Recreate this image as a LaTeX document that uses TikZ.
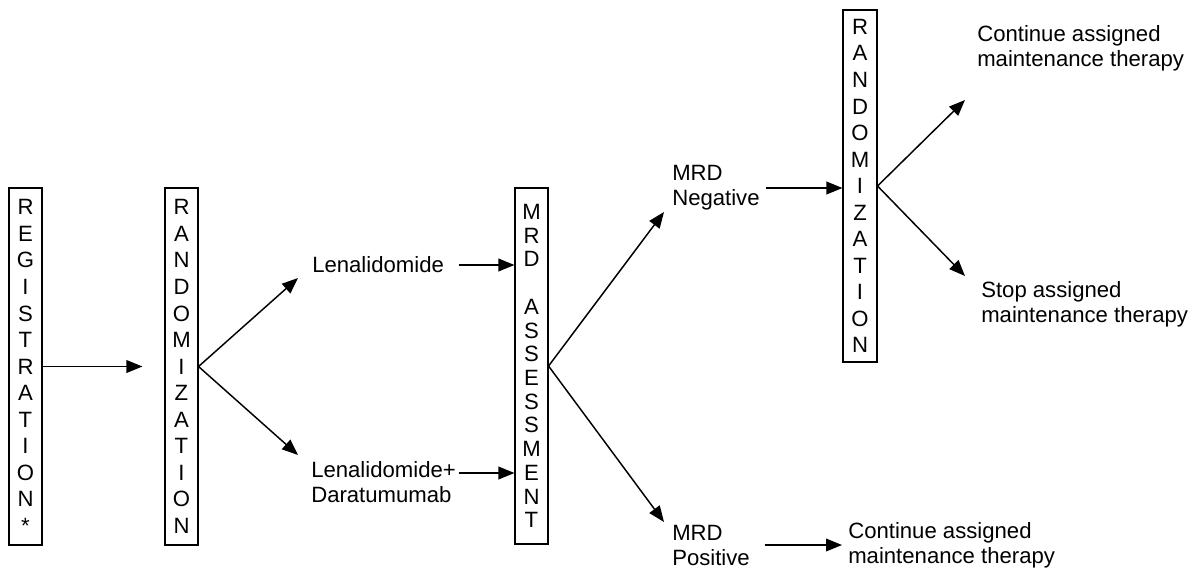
\documentclass[tikz,border=0pt]{standalone}
\usepackage{fontspec}
\setmainfont{Liberation Sans}
\usepackage{tikz}
\usetikzlibrary{arrows.meta, positioning}

\begin{document}
\begin{tikzpicture}[x=0.75pt, y=-0.75pt,
	vbox/.style={rectangle, draw=black, line width=0.8pt, align=center, inner sep=0pt,
	             minimum width=24.75pt, minimum height=267.75pt,
	             font=\fontsize{16.6}{19.9}\selectfont},
	lbl/.style={rectangle, align=left, inner sep=0pt, anchor=west,
	            font=\fontsize{16.6}{18.75}\selectfont},
	arr/.style={-{Triangle[length=12pt, width=9.5pt]}, line width=1.1pt, draw=black}
	]
\useasboundingbox (0,0) rectangle (1192,569);

% vertical boxes
\node[vbox] (reg) at (25.5,366.5)
	{R\\E\\G\\I\\S\\T\\R\\A\\T\\I\\O\\N\\*};
\node[vbox] (ran) at (181.5,366.5)
	{R\\A\\N\\D\\O\\M\\I\\Z\\A\\T\\I\\O\\N};
\node[vbox, minimum height=267pt, font=\fontsize{16.6}{17.8}\selectfont] (mrd) at (531.5,366)
	{M\\R\\D\\~\\A\\S\\S\\E\\S\\S\\M\\E\\N\\T};
\node[vbox, minimum width=25.5pt, minimum height=264pt] (ran2) at (860,186)
	{R\\A\\N\\D\\O\\M\\I\\Z\\A\\T\\I\\O\\N};

% arms
\node[lbl] (len) at (312,265) {Lenalidomide};
\node[lbl] (dara) at (311,482) {Lenalidomide+\\Daratumumab};
\node[lbl] (neg) at (672,188) {MRD\\Negative};
\node[lbl] (pos) at (672,545) {MRD\\Positive};
\node[lbl] (cont) at (977,48) {Continue assigned\\maintenance therapy};
\node[lbl] (stop) at (981,304) {Stop assigned\\maintenance therapy};
\node[lbl] (cont2) at (848,545) {Continue assigned\\maintenance therapy};

\coordinate (tlen) at (298,278);
\coordinate (tdara) at (298,455);
\coordinate (tneg) at (664,212);
\coordinate (tpos) at (664,522);
\coordinate (tcont) at (965,100);
\coordinate (tstop) at (965,276);

\draw[arr, shorten >=16.5pt] (reg) -- (ran);
\draw[arr] (ran.east) -- (tlen);
\draw[arr] (ran.east) -- (tdara);
\draw[arr, shorten <=11pt] (len.east) -- (len.east -| mrd.west);
\draw[arr, shorten <=2pt] ([yshift=6.75pt]dara.east) -- ([yshift=6.75pt]dara.east -| mrd.west);
\draw[arr] (mrd.east) -- (tneg);
\draw[arr] (mrd.east) -- (tpos);
\draw[arr, shorten <=4.5pt] (neg.east) -- (neg.east -| ran2.west);
\draw[arr] (ran2.east) -- (tcont);
\draw[arr] (ran2.east) -- (tstop);
\draw[arr, shorten <=11pt, shorten >=4.5pt] (pos.east) -- (cont2.west);
\end{tikzpicture}
\end{document}
